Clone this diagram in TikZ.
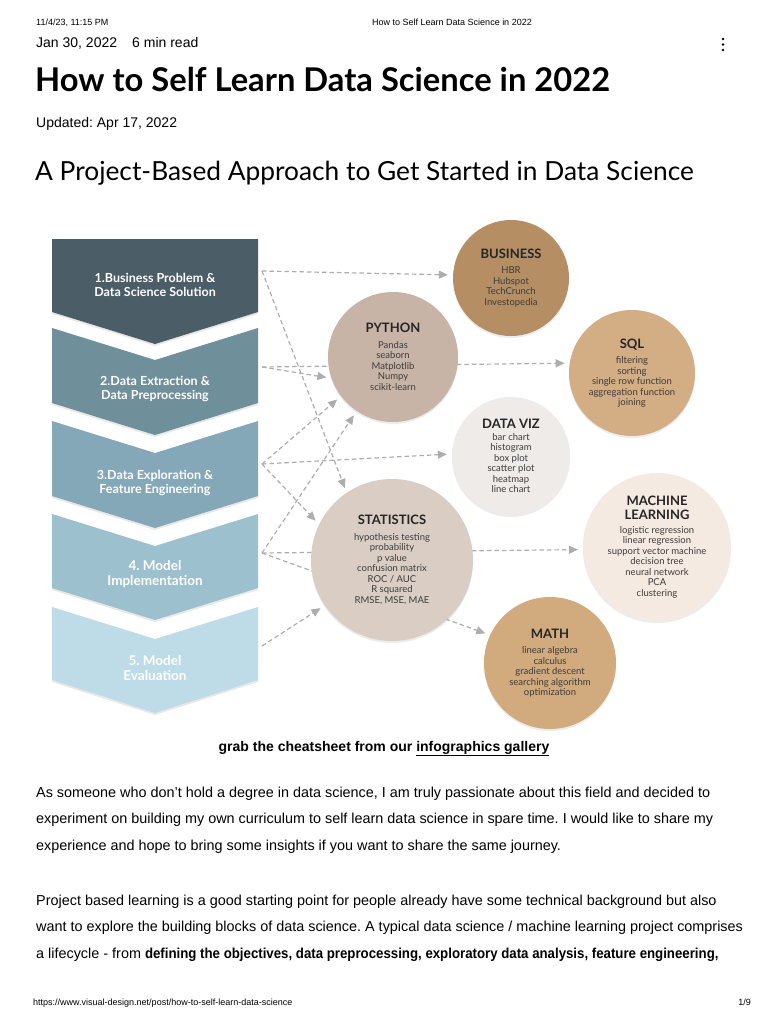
\documentclass[tikz,border=0pt]{standalone}
\usepackage{fontspec}
\setmainfont{Liberation Sans}
\newfontfamily\headfont{Lato}
\newfontfamily\chartfont{Lato}
\newfontfamily\bodyfont[BoldFeatures={FakeStretch=0.92}]{Liberation Sans}
\usetikzlibrary{arrows.meta, shadows}
\frenchspacing

\pgfdeclarelayer{bg}
\pgfsetlayers{bg,main}

\definecolor{stepone}{HTML}{4B5D66}
\definecolor{steptwo}{HTML}{6F8F9B}
\definecolor{stepthree}{HTML}{84A8B7}
\definecolor{stepfour}{HTML}{9DC0CE}
\definecolor{stepfive}{HTML}{BEDCE7}
\definecolor{businesscol}{HTML}{B68E63}
\definecolor{pythoncol}{HTML}{C7B4A6}
\definecolor{sqlcol}{HTML}{D3AD83}
\definecolor{vizcol}{HTML}{EEEBE8}
\definecolor{statscol}{HTML}{DACEC4}
\definecolor{mlcol}{HTML}{F5EAE1}
\definecolor{mathcol}{HTML}{D1AA7D}
\definecolor{linkgray}{HTML}{ADADAD}
\definecolor{itemgray}{HTML}{3C3C3C}
\definecolor{titlegray}{HTML}{262626}

\tikzset{
  stepbox/.style={draw=none, drop shadow={shadow xshift=0pt, shadow yshift=-2pt, opacity=0.18}},
  steplabel/.style={text=white, align=center, font=\chartfont\bfseries\fontsize{12.5}{14}\selectfont},
  topic/.style={circle, inner sep=0pt, align=center, text=itemgray,
    font=\chartfont\fontsize{9.5}{10.5}\selectfont,
    drop shadow={shadow xshift=0pt, shadow yshift=-2pt, opacity=0.15}},
  link/.style={draw=linkgray, dash pattern=on 4.5pt off 3pt, line width=1.2pt,
    -{Triangle[length=9pt,width=8pt]}, shorten >=5pt},
  pagetext/.style={anchor=base west, inner sep=0pt},
}

\newcommand{\topichead}[1]{{\fontsize{13}{15}\selectfont\bfseries\color{titlegray}#1}}

\begin{document}
\begin{tikzpicture}[x=1pt, y=-1pt]
    \useasboundingbox (0,0) rectangle (768,1024);

    % Page header
    \node[pagetext, font=\fontsize{9}{11}\selectfont] (stamp) at (36,26) {11/4/23, 11:15 PM};
    \node[anchor=base, inner sep=0pt, font=\fontsize{9}{11}\selectfont] (tabtitle) at (452,26) {How to Self Learn Data Science in 2022};
    \node[pagetext, font=\fontsize{14}{16}\selectfont] (date) at (36,48) {Jan 30, 2022};
    \node[pagetext, font=\fontsize{14}{16}\selectfont] (readtime) at (132,48) {6 min read};
    \fill (723,39) circle (1.4);
    \fill (723,44.5) circle (1.4);
    \fill (723,50) circle (1.4);
    \node[pagetext, font=\headfont\bfseries\fontsize{32.7}{38}\selectfont] (title) at (35,92) {How to Self Learn Data Science in 2022};
    \node[pagetext, font=\fontsize{14}{16}\selectfont] (updated) at (36,128) {Updated: Apr 17, 2022};
    \node[pagetext, font=\headfont\fontsize{26.3}{30}\selectfont] (subtitle) at (35,181) {A Project-Based Approach to Get Started in Data Science};

    % Steps (chevrons)
    \path[stepbox, fill=stepone] (52,239) -- (258,239) -- (258,312) -- (155,344) -- (52,312) -- cycle;
    \path[stepbox, fill=steptwo] (52,328) -- (155,360) -- (258,328) -- (258,403) -- (155,435) -- (52,403) -- cycle;
    \path[stepbox, fill=stepthree] (52,421) -- (155,453) -- (258,421) -- (258,496) -- (155,528) -- (52,496) -- cycle;
    \path[stepbox, fill=stepfour] (52,514) -- (155,546) -- (258,514) -- (258,588) -- (155,620) -- (52,588) -- cycle;
    \path[stepbox, fill=stepfive] (52,607) -- (155,639) -- (258,607) -- (258,680) -- (155,713) -- (52,680) -- cycle;

    \node[steplabel] (step1) at (155,285) {1.Business Problem \&\\Data Science Solution};
    \node[steplabel] (step2) at (155,389) {2.Data Extraction \&\\Data Preprocessing};
    \node[steplabel] (step3) at (155,483) {3.Data Exploration \&\\Feature Engineering};
    \node[steplabel, font=\chartfont\bfseries\fontsize{13.5}{15}\selectfont] (step4) at (155,574) {4. Model\\Implementation};
    \node[steplabel, font=\chartfont\bfseries\fontsize{13.5}{15}\selectfont] (step5) at (155,668) {5. Model\\Evaluation};

    \coordinate (p1) at (262,271);
    \coordinate (p2) at (262,367);
    \coordinate (p3) at (262,464);
    \coordinate (p4) at (262,553);
    \coordinate (p5) at (262,646);

    % Topics (circles)
    \node[topic, fill=businesscol, minimum size=116pt] (business) at (511,278)
      {\topichead{BUSINESS}\\[5pt]HBR\\Hubspot\\TechCrunch\\Investopedia};
    \node[topic, fill=pythoncol, minimum size=130pt] (python) at (393,357)
      {\topichead{PYTHON}\\[5pt]Pandas\\seaborn\\Matplotlib\\Numpy\\scikit-learn};
    \node[topic, fill=sqlcol, minimum size=126pt] (sql) at (632,373)
      {\topichead{SQL}\\[5pt]filtering\\sorting\\single row function\\aggregation function\\joining};
    \node[topic, fill=vizcol, minimum size=118pt] (dataviz) at (511,456)
      {\topichead{DATA VIZ}\\[1pt]bar chart\\histogram\\box plot\\scatter plot\\heatmap\\line chart};
    \node[topic, fill=statscol, minimum size=162pt] (stats) at (392,560)
      {\topichead{STATISTICS}\\[5pt]hypothesis testing\\probability\\p value\\confusion matrix\\ROC / AUC\\R squared\\RMSE, MSE, MAE};
    \node[topic, fill=mlcol, minimum size=148pt] (ml) at (657,547)
      {\topichead{MACHINE}\\[4pt]\topichead{LEARNING}\\[3pt]logistic regression\\linear regression\\support vector machine\\decision tree\\neural network\\PCA\\clustering};
    \node[topic, fill=mathcol, minimum size=132pt] (math) at (550,663)
      {\topichead{MATH}\\[5pt]linear algebra\\calculus\\gradient descent\\searching algorithm\\optimization};

    % Connections
    \begin{pgfonlayer}{bg}
    \draw[link] (p1) -- (business.177);
    \draw[link] (p1) -- (stats.124);
    \draw[link] (p2) -- (python.199);
    \draw[link] (p2) -- (sql.171);
    \draw[link] (p3) -- (python.217);
    \draw[link] (p3) -- (dataviz.178);
    \draw[link] (p3) -- (stats.154);
    \draw[link] (p4) -- (python.236);
    \draw[link] (p4) -- (ml.182);
    \draw[link] (p4) -- (math.155);
    \draw[link] (p5) -- (stats.214);
    \end{pgfonlayer}

    % Caption and article text
    \node[anchor=base, inner sep=0pt, font=\bfseries\fontsize{14}{16}\selectfont] (caption) at (384,751)
      {grab the cheatsheet from our \underline{infographics gallery}};
    \node[pagetext, font=\bodyfont\fontsize{14.4}{16}\selectfont] (para1a) at (36,797)
      {As someone who don’t hold a degree in data science, I am truly passionate about this field and decided to};
    \node[pagetext, font=\bodyfont\fontsize{14.4}{16}\selectfont] (para1b) at (36,823)
      {experiment on building my own curriculum to self learn data science in spare time. I would like to share my};
    \node[pagetext, font=\bodyfont\fontsize{14.4}{16}\selectfont] (para1c) at (36,850)
      {experience and hope to bring some insights if you want to share the same journey.};
    \node[pagetext, font=\bodyfont\fontsize{14.4}{16}\selectfont] (para2a) at (36,905)
      {Project based learning is a good starting point for people already have some technical background but also};
    \node[pagetext, font=\bodyfont\fontsize{14.4}{16}\selectfont] (para2b) at (36,931)
      {want to explore the building blocks of data science. A typical data science / machine learning project comprises};
    \node[pagetext, font=\bodyfont\fontsize{14.4}{16}\selectfont] (para2c) at (36,958)
      {a lifecycle - from \textbf{defining the objectives, data preprocessing, exploratory data analysis, feature engineering,}};

    % Page footer
    \node[pagetext, font=\fontsize{9}{11}\selectfont] (url) at (33,1005) {https://www.visual-design.net/post/how-to-self-learn-data-science};
    \node[anchor=base east, inner sep=0pt, font=\fontsize{9}{11}\selectfont] (pageno) at (751,1005) {1/9};
\end{tikzpicture}
\end{document}
